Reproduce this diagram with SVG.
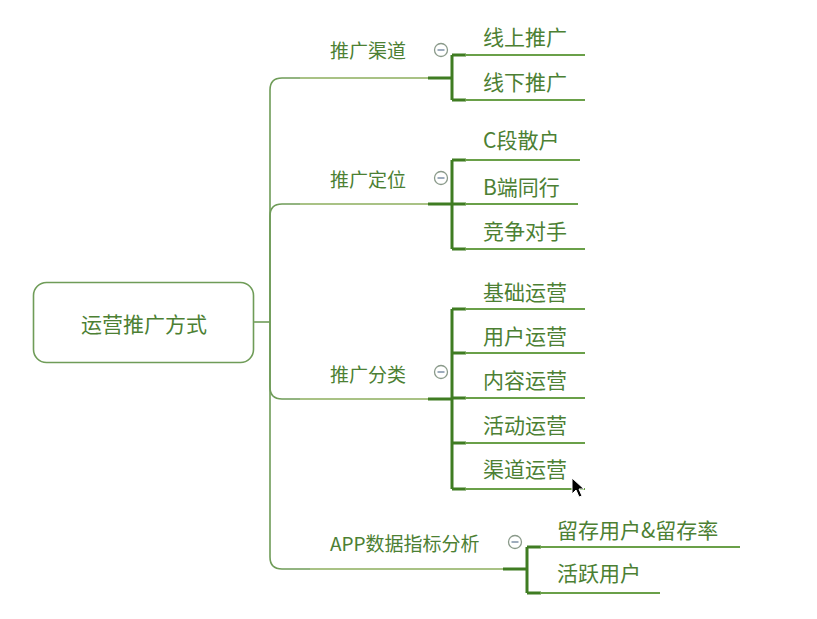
<svg xmlns="http://www.w3.org/2000/svg" width="817" height="619" viewBox="0 0 817 619">
<style>
text{font-family:"Noto Sans CJK SC","Microsoft YaHei",sans-serif;fill:#4c8033}
.l1{font-size:19px}
.l2{font-size:21px}
.root{font-size:21px}
.trunk{fill:none;stroke:#6f9c58;stroke-width:1.6}
.main{fill:none;stroke:#a9c285;stroke-width:2}
.dark{fill:none;stroke:#3f7c22;stroke-width:3}
.sub{fill:none;stroke:#6aa049;stroke-width:2}
.tog{fill:#fff;stroke:#8a9a8a;stroke-width:1.3}
.togm{stroke:#6a7f9a;stroke-width:1.3}
</style>
<rect width="817" height="619" fill="#fff"/>
<g id="connectors">
<path class="trunk" d="M254 322H270"/>
<path class="trunk" d="M270 322V90Q270 78 282 78H300"/>
<path class="trunk" d="M270 322V216Q270 204 282 204H300"/>
<path class="trunk" d="M270 322V387Q270 399 282 399H300"/>
<path class="trunk" d="M270 322V557Q270 569 282 569H310"/>
<path class="main" d="M300 78H430M300 204H430M300 399H430M310 569H505"/>
<path class="dark" d="M428 78H452M428 204H452M428 399H452M503 569H527"/>
<path class="dark" d="M452 55V100M452 160V249M452 309V489M527 547V593"/>
<path class="dark" d="M452 55H466M452 100H466M452 160H466M452 204H466M452 249H466M452 309H466M452 353H466M452 398H466M452 443H466M452 489H466M527 547H541M527 593H541"/>
<path class="sub" d="M465 55H585M465 100H585M465 160H580M465 204H578M465 249H585M465 309H585M465 353H585M465 398H585M465 443H585M465 489H585M540 547H740M540 593H660"/>
</g>
<g id="root">
<rect x="33.5" y="282.5" width="220" height="80" rx="13" fill="#fff" stroke="#6f9c58" stroke-width="1.6"/>
<text class="root" x="144" y="332" text-anchor="middle">运营推广方式</text>
</g>
<g id="n-qudao">
<text class="l1" x="330" y="58">推广渠道</text>
<circle class="tog" cx="441" cy="50" r="6.5"/><path class="togm" d="M437.5 50H444.5"/>
</g>
<g id="n-dingwei">
<text class="l1" x="330" y="187">推广定位</text>
<circle class="tog" cx="441" cy="178" r="6.5"/><path class="togm" d="M437.5 178H444.5"/>
</g>
<g id="n-fenlei">
<text class="l1" x="330" y="382">推广分类</text>
<circle class="tog" cx="441" cy="372" r="6.5"/><path class="togm" d="M437.5 372H444.5"/>
</g>
<g id="n-app">
<text class="l1" x="330" y="551">APP数据指标分析</text>
<circle class="tog" cx="515" cy="542" r="6.5"/><path class="togm" d="M511.5 542H518.5"/>
</g>
<g id="c-xianshang"><text class="l2" x="483" y="45">线上推广</text></g>
<g id="c-xianxia"><text class="l2" x="483" y="90">线下推广</text></g>
<g id="c-cduan"><text class="l2" x="483" y="148">C段散户</text></g>
<g id="c-bduan"><text class="l2" x="483" y="195">B端同行</text></g>
<g id="c-jingzheng"><text class="l2" x="483" y="239">竞争对手</text></g>
<g id="c-jichu"><text class="l2" x="483" y="300">基础运营</text></g>
<g id="c-yonghu"><text class="l2" x="483" y="344">用户运营</text></g>
<g id="c-neirong"><text class="l2" x="483" y="388">内容运营</text></g>
<g id="c-huodong"><text class="l2" x="483" y="433">活动运营</text></g>
<g id="c-qudaoyy"><text class="l2" x="483" y="477">渠道运营</text></g>
<g id="c-liucun"><text class="l2" x="557" y="538">留存用户&amp;留存率</text></g>
<g id="c-huoyue"><text class="l2" x="557" y="581">活跃用户</text></g>
<path d="M572 478L572 494L576 490L579 497L582 496L579 489L584 489Z" fill="#000" stroke="#fff" stroke-width="1"/>
</svg>
